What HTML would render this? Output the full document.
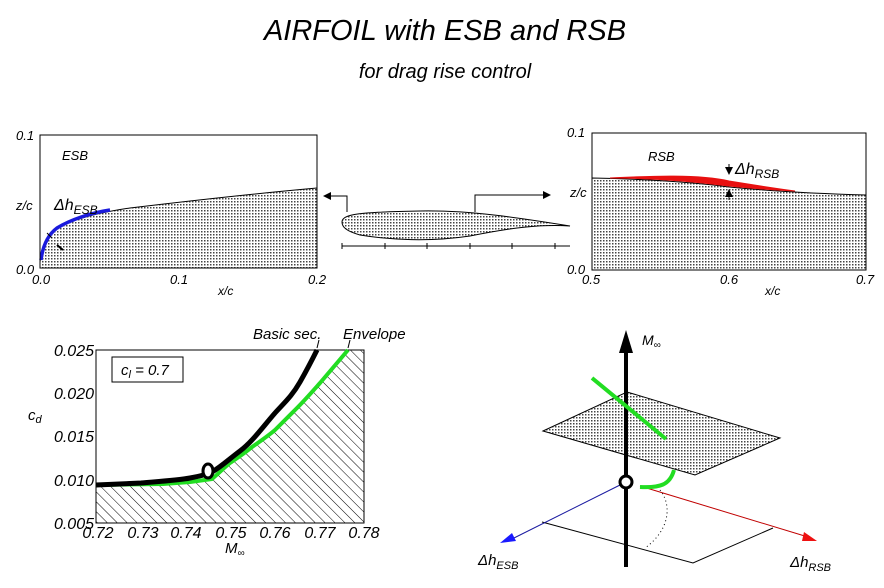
<!DOCTYPE html>
<html><head><meta charset="utf-8"><style>
body{margin:0;background:#fff;}
svg{display:block;font-family:"Liberation Sans",sans-serif;font-style:italic;}
</style></head><body>
<svg width="884" height="588" viewBox="0 0 884 588" xmlns="http://www.w3.org/2000/svg">
<defs>
<pattern id="dots" width="3" height="3" patternUnits="userSpaceOnUse"><rect width="3" height="3" fill="#fff"/><rect width="1.5" height="1.5" fill="#444"/></pattern>
<pattern id="hatch" width="7" height="7" patternUnits="userSpaceOnUse" patternTransform="rotate(-45)"><rect width="7" height="7" fill="#fff"/><line x1="0" y1="0" x2="0" y2="7" stroke="#000" stroke-width="1"/></pattern>
<marker id="ab" markerWidth="8" markerHeight="8" refX="7" refY="4" orient="auto" markerUnits="userSpaceOnUse"><path d="M0,0L8,4L0,8z" fill="#000"/></marker>
</defs>
<text x="445" y="40" font-size="29" text-anchor="middle">AIRFOIL with ESB and RSB</text>
<text x="445" y="78" font-size="20" text-anchor="middle">for drag rise control</text>

<!-- ESB plot -->
<path d="M40,268 L40,262 C42,245 48,235 56,229 C70,221 90,214 130,208 C180,202 250,194 317,188 L317,268 Z" fill="url(#dots)" stroke="#000" stroke-width="1"/>
<path d="M41,260 C43,244 49,234 57,228 C70,220 90,213 110,210" fill="none" stroke="#1a1adc" stroke-width="3.5"/>
<rect x="40" y="135" width="277" height="133" fill="none" stroke="#000"/>
<text x="16" y="140" font-size="13">0.1</text>
<text x="16" y="274" font-size="13">0.0</text>
<text x="16" y="210" font-size="13">z/c</text>
<text x="32" y="284" font-size="13">0.0</text>
<text x="170" y="284" font-size="13">0.1</text>
<text x="308" y="284" font-size="13">0.2</text>
<text x="218" y="295" font-size="12">x/c</text>
<text x="62" y="160" font-size="13">ESB</text>
<text x="54" y="210" font-size="16">Δh<tspan font-size="12" dy="4">ESB</tspan></text>
<line x1="47" y1="233" x2="52" y2="238" stroke="#000"/><line x1="57" y1="245" x2="63" y2="250" stroke="#000" stroke-width="2"/>

<!-- middle airfoil -->
<path d="M342,222 C342,214 360,212 420,211 C470,210 520,218 570,226 C540,224 510,228 470,236 C430,242 390,240 360,235 C346,231 342,227 342,222Z" fill="url(#dots)" stroke="#000"/>
<line x1="342" y1="246" x2="570" y2="246" stroke="#000"/>
<g stroke="#000"><line x1="342" y1="243" x2="342" y2="249"/><line x1="385" y1="243" x2="385" y2="249"/><line x1="427" y1="243" x2="427" y2="249"/><line x1="470" y1="243" x2="470" y2="249"/><line x1="512" y1="243" x2="512" y2="249"/><line x1="555" y1="243" x2="555" y2="249"/></g>
<polyline points="347,212 347,196 324,196" fill="none" stroke="#000" marker-end="url(#ab)"/>
<polyline points="475,212 475,195 550,195" fill="none" stroke="#000" marker-end="url(#ab)"/>

<!-- RSB plot -->
<path d="M592,178 C650,179 700,183 729,187 C780,192 830,194 866,195 L866,270 L592,270Z" fill="url(#dots)" stroke="#000"/>
<path d="M610,178 C650,176 700,174 729,181 C760,186 780,189 795,191 C770,190 750,188 729,186 C690,181 650,178 610,178Z" fill="#e81010" stroke="#e81010"/>
<rect x="592" y="133" width="274" height="137" fill="none" stroke="#000"/>
<text x="567" y="137" font-size="13">0.1</text>
<text x="567" y="274" font-size="13">0.0</text>
<text x="570" y="197" font-size="13">z/c</text>
<text x="582" y="284" font-size="13">0.5</text>
<text x="720" y="284" font-size="13">0.6</text>
<text x="856" y="284" font-size="13">0.7</text>
<text x="765" y="295" font-size="12">x/c</text>
<text x="648" y="161" font-size="13">RSB</text>
<text x="735" y="174" font-size="16">Δh<tspan font-size="12" dy="4">RSB</tspan></text>
<line x1="729" y1="164" x2="729" y2="174" stroke="#000" marker-end="url(#ab)"/>
<line x1="729" y1="200" x2="729" y2="190" stroke="#000" marker-end="url(#ab)"/>

<!-- drag plot -->
<path d="M96,485 L163,484 L190,482 L212,479 C220,472 225,467 230,463 C240,456 245,453 252,447 C262,440 268,436 275,430 C285,420 290,415 297,408 C305,400 312,392 320,383 L348,350 L364,350 L364,523 L96,523Z" fill="url(#hatch)"/>
<rect x="96" y="350" width="268" height="173" fill="none" stroke="#000"/>
<path d="M96,485 L163,484 L190,482 L212,479 C220,472 225,467 230,463 C240,456 245,453 252,447 C262,440 268,436 275,430 C285,420 290,415 297,408 C305,400 312,392 320,383 L348,350" fill="none" stroke="#22dd22" stroke-width="4" stroke-linejoin="round"/>
<path d="M96,485 L141,483 C165,481 180,480 190,478 C200,476 205,475 212,472 C222,466 228,460 240,451 C252,442 262,428 275,413 C285,402 292,396 300,382 C308,368 312,360 317,350" fill="none" stroke="#000" stroke-width="5" stroke-linejoin="round"/>
<line x1="317" y1="348" x2="319" y2="340" stroke="#000"/><line x1="348" y1="348" x2="350" y2="340" stroke="#000"/>
<ellipse cx="208" cy="471" rx="5" ry="7" fill="#fff" stroke="#000" stroke-width="3"/>
<rect x="112" y="357" width="71" height="25" fill="#fff" stroke="#000"/>
<text x="121" y="375" font-size="15">c<tspan font-size="11" dy="3">l</tspan><tspan dy="-3"> = 0.7</tspan></text>
<text x="253" y="339" font-size="15">Basic sec.</text>
<text x="343" y="339" font-size="15">Envelope</text>
<g font-size="16" text-anchor="end"><text x="94" y="356">0.025</text><text x="94" y="399">0.020</text><text x="94" y="442">0.015</text><text x="94" y="486">0.010</text><text x="94" y="529">0.005</text></g>
<text x="28" y="420" font-size="15">c<tspan font-size="11" dy="3">d</tspan></text>
<g font-size="16" text-anchor="middle"><text x="98" y="538">0.72</text><text x="143" y="538">0.73</text><text x="186" y="538">0.74</text><text x="231" y="538">0.75</text><text x="275" y="538">0.76</text><text x="320" y="538">0.77</text><text x="364" y="538">0.78</text></g>
<text x="225" y="553" font-size="15">M<tspan font-size="10" dy="3">∞</tspan></text>

<!-- 3D -->
<polyline points="542,522 693,563 773,528" fill="none" stroke="#000"/>
<line x1="620" y1="485" x2="510" y2="540" stroke="#1a1aa0"/>
<polygon points="500,543 512,533 516,541" fill="#1a1aff"/>
<line x1="640" y1="486" x2="808" y2="537" stroke="#c00000"/>
<polygon points="817,541 804,532 802,541" fill="#ee1111"/>
<path d="M660,490 C672,505 670,530 645,548" fill="none" stroke="#000" stroke-dasharray="1,3"/>
<polygon points="543,431 627,392 780,438 695,475" fill="url(#dots)" stroke="#000"/>
<line x1="626" y1="350" x2="626" y2="567" stroke="#000" stroke-width="4"/>
<polygon points="626,330 619,353 633,353" fill="#000"/>
<text x="642" y="345" font-size="14">M<tspan font-size="10" dy="3">∞</tspan></text>
<line x1="592" y1="378" x2="666" y2="439" stroke="#22dd22" stroke-width="4"/>
<path d="M640,487 C660,488 670,485 674,470" fill="none" stroke="#22dd22" stroke-width="4"/>
<circle cx="626" cy="482" r="6" fill="#fff" stroke="#000" stroke-width="3"/>
<text x="478" y="565" font-size="15">Δh<tspan font-size="11" dy="4">ESB</tspan></text>
<text x="790" y="567" font-size="15">Δh<tspan font-size="11" dy="4">RSB</tspan></text>
</svg>
</body></html>
